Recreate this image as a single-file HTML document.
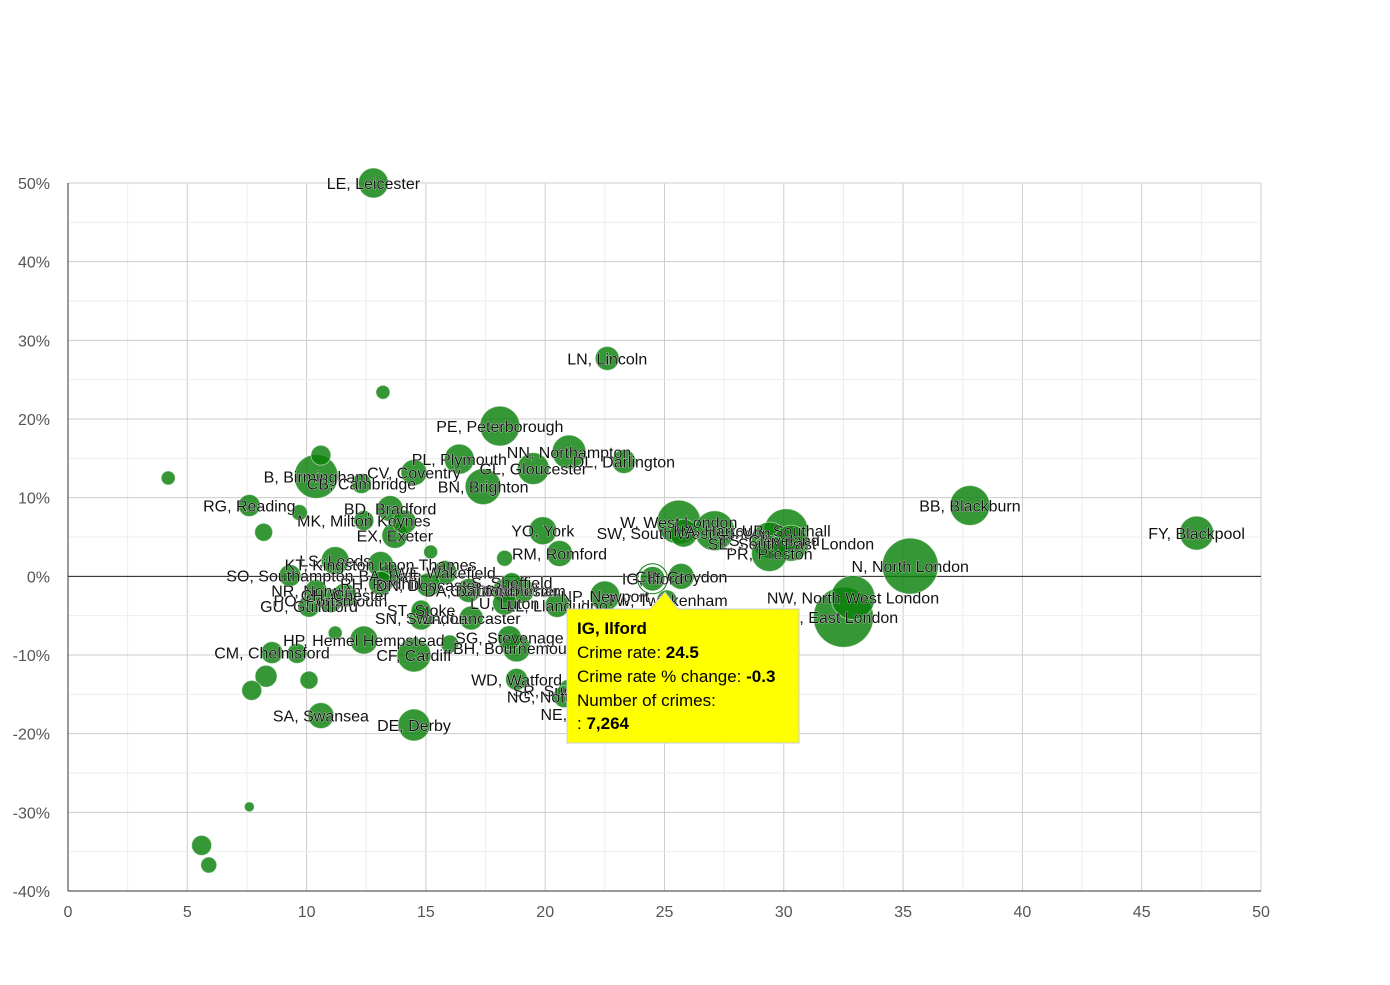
<!DOCTYPE html>
<html><head><meta charset="utf-8"><style>
body{margin:0;background:#fff;font-family:"Liberation Sans",Arial,sans-serif}
svg text{font-family:"Liberation Sans",Arial,sans-serif}
</style></head><body>
<svg id="chart" width="1390" height="980" xmlns="http://www.w3.org/2000/svg">
<g id="grid"></g>
<g id="axes"></g>
<g id="bubbles"></g>
<g id="labels"></g>
<g id="tooltip"></g>
</svg>
<script>
const names=["LE, Leicester","LN, Lincoln","","PE, Peterborough","NN, Northampton","DL, Darlington","PL, Plymouth","GL, Gloucester","BN, Brighton","CV, Coventry","B, Birmingham","","","CB, Cambridge","RG, Reading","","BD, Bradford","MK, Milton Keynes","","EX, Exeter","","YO, York","RM, Romford","W, West London","SW, South West London","HA, Harrow","UB, Southall","TS, Cleveland","SE, South East London","PR, Preston","N, North London","BB, Blackburn","FY, Blackpool","NW, North West London","E, East London","CR, Croydon","TW, Twickenham","NP, Newport","LL, Llandudno","DH, Durham","CO, Colchester","LU, Luton","LA, Lancaster","SG, Stevenage","BH, Bournemouth","WD, Watford","SR, Sunderland","NG, Nottingham","NE, Newcastle","DE, Derby","SA, Swansea","CF, Cardiff","HP, Hemel Hempstead","CM, Chelmsford","","","","","","","","GU, Guildford","PO, Portsmouth","SO, Southampton","LS, Leeds","KT, Kingston upon Thames","BA, Bath","WF, Wakefield","NR, Norwich","RH, Redhill","CH, Chester","DN, Doncaster","DA, Dartford","SN, Swindon","ST, Stoke","S, Sheffield","","","","","IG, Ilford"];
const rates=[12.8,22.6,13.2,18.1,21.0,23.3,16.4,19.5,17.4,14.5,10.4,10.6,4.2,12.3,7.6,9.7,13.5,12.4,14.1,13.7,8.2,19.9,20.6,25.6,25.8,27.1,30.1,29.4,30.3,29.4,35.3,37.8,47.3,32.9,32.5,25.7,25.1,22.5,20.5,19.0,18.3,18.3,16.9,18.5,18.8,18.8,21.0,20.8,22.0,14.5,10.6,14.5,12.4,8.55,9.6,8.3,7.7,10.1,7.6,5.6,5.9,10.1,11.0,9.3,11.2,13.1,13.5,15.8,10.4,13.1,11.6,15.1,16.8,14.8,14.8,18.6,18.3,15.2,11.2,16.0,24.5];
const changes=[50,27.7,23.4,19.1,15.8,14.6,14.9,13.7,11.4,13.2,12.7,15.4,12.5,11.8,9.0,8.1,8.6,7.1,6.9,5.2,5.6,5.8,2.9,6.9,5.5,5.8,5.8,4.6,4.2,2.9,1.3,9.0,5.5,-2.7,-5.2,0,-3.0,-2.5,-3.7,-1.8,-1.8,-3.4,-5.3,-7.8,-9.1,-13.1,-14.5,-15.3,-17.5,-18.9,-17.7,-10,-8.1,-9.7,-9.8,-12.7,-14.5,-13.2,-29.3,-34.2,-36.7,-3.8,-3.1,0.1,2.0,1.5,0.1,0.5,-1.8,-0.9,-2.4,-1.1,-1.8,-5.3,-4.3,-0.8,2.3,3.1,-7.2,-8.6,-0.3];
const crimes=[7500,4800,1630,13300,9630,4800,7500,8530,10800,5630,16100,3330,1630,3330,4030,2130,5630,3330,4800,5630,2700,6530,5630,16100,6530,13300,16100,10800,10800,10800,26100,13300,9630,16100,30000,5630,3330,7500,4800,5630,4800,4800,4800,4800,6530,4030,4030,4030,4030,8530,5630,9630,6530,4030,3330,4030,3330,2700,830,3330,2130,4030,4800,4030,6530,5630,4800,4800,4030,4800,4800,4800,4800,4800,3330,3330,2130,1630,1630,2700,5630];
const xTicks=[0,5,10,15,20,25,30,35,40,45,50];
const yTicks=[50,40,30,20,10,0,-10,-20,-30,-40];
const X0=68,X1=1261,Y0=183,Y1=891;
const xs=v=>X0+(v/50)*(X1-X0);
const ys=v=>Y0+(50-v)/90*(Y1-Y0);
const rs=c=>30*Math.sqrt(c/30000);
const NS="http://www.w3.org/2000/svg";
function mk(tag,attrs,parent){const e=document.createElementNS(NS,tag);for(const k in attrs)e.setAttribute(k,attrs[k]);parent.appendChild(e);return e;}
const grid=document.getElementById('grid'),axes=document.getElementById('axes');
for(let v=0;v<=50;v+=2.5){const l=mk('line',{x1:xs(v),x2:xs(v),y1:Y0,y2:Y1,stroke:v%5===0?'#ccc':'#eee','stroke-width':1},grid);

}
for(let v=-40;v<=50;v+=5){const l=mk('line',{x1:X0,x2:X1,y1:ys(v),y2:ys(v),stroke:v%10===0?'#ccc':'#eee','stroke-width':1},grid);

}
const zl=mk('line',{x1:X0,x2:X1,y1:ys(0),y2:ys(0),stroke:'#222','stroke-width':1},axes);


const ya=mk('line',{x1:X0,x2:X0,y1:Y0,y2:Y1,stroke:'#333','stroke-width':1},axes);


const xa=mk('line',{x1:X0,x2:X1,y1:Y1,y2:Y1,stroke:'#333','stroke-width':1},axes);


xTicks.forEach(v=>{const t=mk('text',{x:xs(v),y:Y1+26,'text-anchor':'middle','font-size':16,fill:'#555'},axes);t.textContent=v;

});
yTicks.forEach(v=>{const t=mk('text',{x:50,y:ys(v)+6,'text-anchor':'end','font-size':16,fill:'#555'},axes);t.textContent=v+'%';

});
const bg=document.getElementById('bubbles'),lg=document.getElementById('labels');
const order=rates.map((_,i)=>i).sort((a,b)=>crimes[b]-crimes[a]);
order.forEach(i=>{const hi=names[i]==="IG, Ilford";
const c=mk('circle',{cx:xs(rates[i]),cy:ys(changes[i]),r:rs(crimes[i]),fill:'rgba(10,128,10,0.82)',stroke:hi?'#fff':'rgba(255,255,255,0.5)','stroke-width':hi?2:1},bg);


if(hi)mk('circle',{cx:xs(rates[i]),cy:ys(changes[i]),r:rs(crimes[i])+2,fill:'none',stroke:'#0a800a','stroke-width':1},bg);});
rates.forEach((v,i)=>{if(!names[i])return;const t=mk('text',{x:xs(v),y:ys(changes[i])+6,'text-anchor':'middle','font-size':16,fill:'#111',stroke:'#fff','stroke-width':0.6,'paint-order':'stroke'},lg);t.textContent=names[i];

});
const tg=document.getElementById('tooltip');
const tb=mk('path',{d:'M567,609 L650,609 L665,592 L678,609 L799,609 L799,743 L567,743 Z',fill:'#ffff00',stroke:'#ccc','stroke-width':1},tg);


const lines=[["IG, Ilford","",634,true],["Crime rate: ","24.5",658],["Crime rate % change: ","-0.3",682],["Number of crimes:","",706],[": ","7,264",729]];
lines.forEach(l=>{const t=mk('text',{x:577,y:l[2],'font-size':17,fill:'#000'},tg);


const a=mk('tspan',{'font-weight':l[3]?'bold':'normal'},t);a.textContent=l[0];
if(l[1]){const b=mk('tspan',{'font-weight':'bold'},t);b.textContent=l[1];}});
</script>
</body></html>
